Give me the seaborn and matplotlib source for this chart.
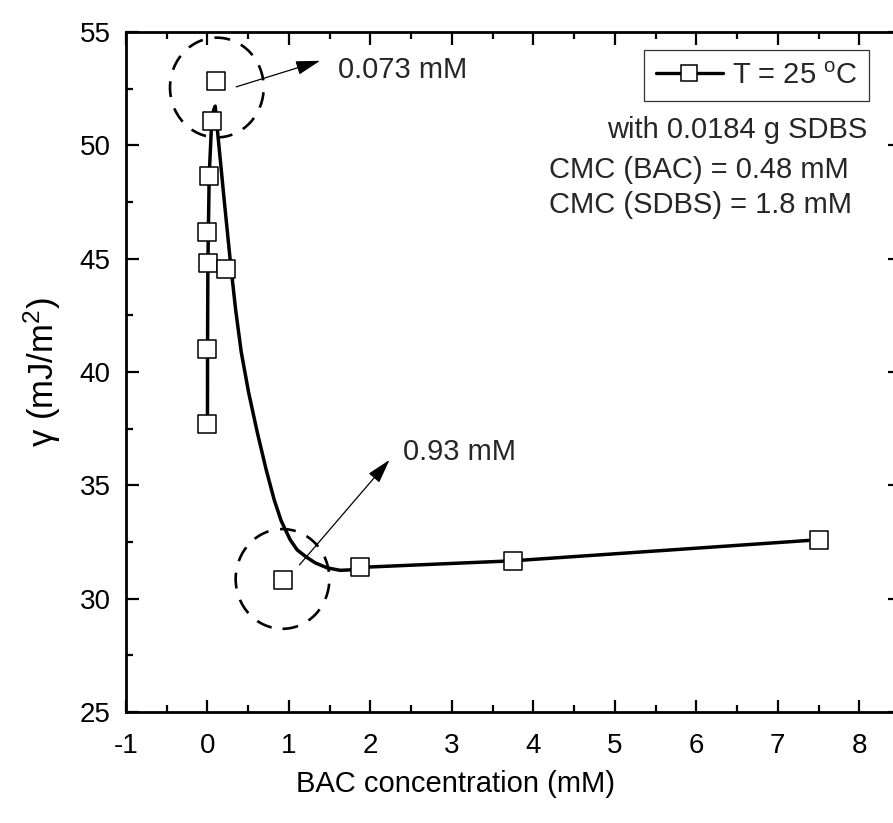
import numpy as np
import pandas as pd
import matplotlib
matplotlib.use("Agg")
import matplotlib.pyplot as plt
import seaborn as sns
from matplotlib.patches import Ellipse
from matplotlib.lines import Line2D
from matplotlib.ticker import MultipleLocator

# measured points
bac_conc = [0.0, 0.0, 0.01, 0.0, 0.02, 0.05, 0.11, 0.226, 0.933, 1.875, 3.75, 7.505]
gamma = [37.71, 41.02, 44.80, 46.19, 48.65, 51.08, 52.85, 44.56, 30.83, 31.38, 31.67, 32.60]

# smooth fit curve
fit_x = [0.0, 0.001, 0.005, 0.021, 0.052, 0.076, 0.095, 0.128, 0.205, 0.285, 0.346,
         0.414, 0.506, 0.610, 0.721, 0.819, 0.905, 1.015, 1.101, 1.212, 1.322, 1.469,
         1.629, 1.751, 1.875, 3.75, 7.505]
fit_y = [37.71, 41.02, 44.72, 48.65, 51.08, 51.56, 51.73, 50.45, 47.59, 44.72, 42.74,
         40.89, 39.08, 37.36, 35.68, 34.36, 33.43, 32.60, 32.15, 31.84, 31.58, 31.36,
         31.25, 31.27, 31.38, 31.67, 32.60]

x_ticks = [-1, 0, 1, 2, 3, 4, 5, 6, 7, 8]
y_ticks = [25, 30, 35, 40, 45, 50, 55]

sns.set_theme(style="ticks")
plt.rcParams["font.family"] = ["Liberation Sans", "DejaVu Sans"]
plt.rcParams["mathtext.fontset"] = "custom"
plt.rcParams["mathtext.rm"] = "Liberation Sans"
plt.rcParams["mathtext.it"] = "Liberation Sans"
plt.rcParams["mathtext.default"] = "regular"

fig = plt.figure(figsize=(8.93, 8.23), dpi=100)
ax = fig.add_axes([126 / 893, 111 / 823, 774 / 893, 680 / 823])

pts = pd.DataFrame({"x": bac_conc, "y": gamma})
fit = pd.DataFrame({"x": fit_x, "y": fit_y})

sns.lineplot(data=fit, x="x", y="y", sort=False, estimator=None, color="black",
             lw=2.5, ax=ax, zorder=2, solid_joinstyle="round", solid_capstyle="round")
sns.scatterplot(data=pts, x="x", y="y", marker="s", s=150, facecolor="white",
                edgecolor="black", linewidth=1.1, ax=ax, zorder=3)

ax.set_xlim(-1, 8.5)
ax.set_ylim(25, 55)
ax.set_xticks(x_ticks)
ax.set_yticks(y_ticks)
ax.set_xticklabels([str(v) for v in x_ticks])
ax.set_yticklabels([str(v) for v in y_ticks])
ax.xaxis.set_minor_locator(MultipleLocator(0.5))
ax.yaxis.set_minor_locator(MultipleLocator(2.5))
ax.tick_params(which="both", direction="in", top=True, right=True, width=1.6,
               color="black", labelsize=20, labelcolor="black")
ax.tick_params(axis="x", which="major", length=9, pad=15)
ax.tick_params(axis="y", which="major", length=9, pad=11)
ax.tick_params(which="minor", length=5)
for sp in ax.spines.values():
    sp.set_linewidth(2.0)
    sp.set_color("black")

ax.set_xlabel("BAC concentration (mM)", fontsize=21, labelpad=10, color="black")
ax.xaxis.set_label_coords((456 - 126) / 774, -0.085)
ax.set_ylabel("\u03b3 (mJ/m$^{2}$)", fontsize=25, labelpad=12, color="black")

# dashed circles
for cx, cy in [(0.115, 52.55), (0.921, 30.87)]:
    ax.add_patch(Ellipse((cx, cy), width=1.15, height=4.4, fill=False,
                         edgecolor="black", lw=1.9, linestyle=(0, (6, 4.5)), zorder=4))

# arrows
arrow_kw = dict(arrowstyle="-|>,head_length=1.25,head_width=0.36", color="black", lw=0.9,
                shrinkA=0, shrinkB=0)
ax.annotate("", xy=(1.383, 53.73), xytext=(0.353, 52.58), arrowprops=arrow_kw)
ax.annotate("", xy=(2.234, 36.12), xytext=(1.129, 31.49), arrowprops=arrow_kw)
ax.text(1.60, 52.95, "0.073 mM", fontsize=21, ha="left", va="baseline")
ax.text(2.40, 36.12, "0.93 mM", fontsize=21, ha="left", va="baseline")

# text block
ax.text(8.094, 50.33, "with 0.0184 g SDBS", fontsize=21, ha="right", va="baseline")
ax.text(4.19, 48.57, "CMC (BAC) = 0.48 mM", fontsize=21, ha="left", va="baseline")
ax.text(4.19, 47.00, "CMC (SDBS) = 1.8 mM", fontsize=21, ha="left", va="baseline")

handle = Line2D([], [], color="black", lw=2.4, marker="s", markersize=12,
                markerfacecolor="white", markeredgecolor="black", markeredgewidth=1.1)
leg = ax.legend([handle], ["T = 25 $^{o}$C"], loc="upper right",
                bbox_to_anchor=(0.960, 0.9735), borderaxespad=0, fontsize=21,
                frameon=True, fancybox=False, edgecolor="black", handlelength=2.3,
                handletextpad=0.3, borderpad=0.4)
leg.get_frame().set_linewidth(0.9)

fig.savefig("out.png", dpi=100)
